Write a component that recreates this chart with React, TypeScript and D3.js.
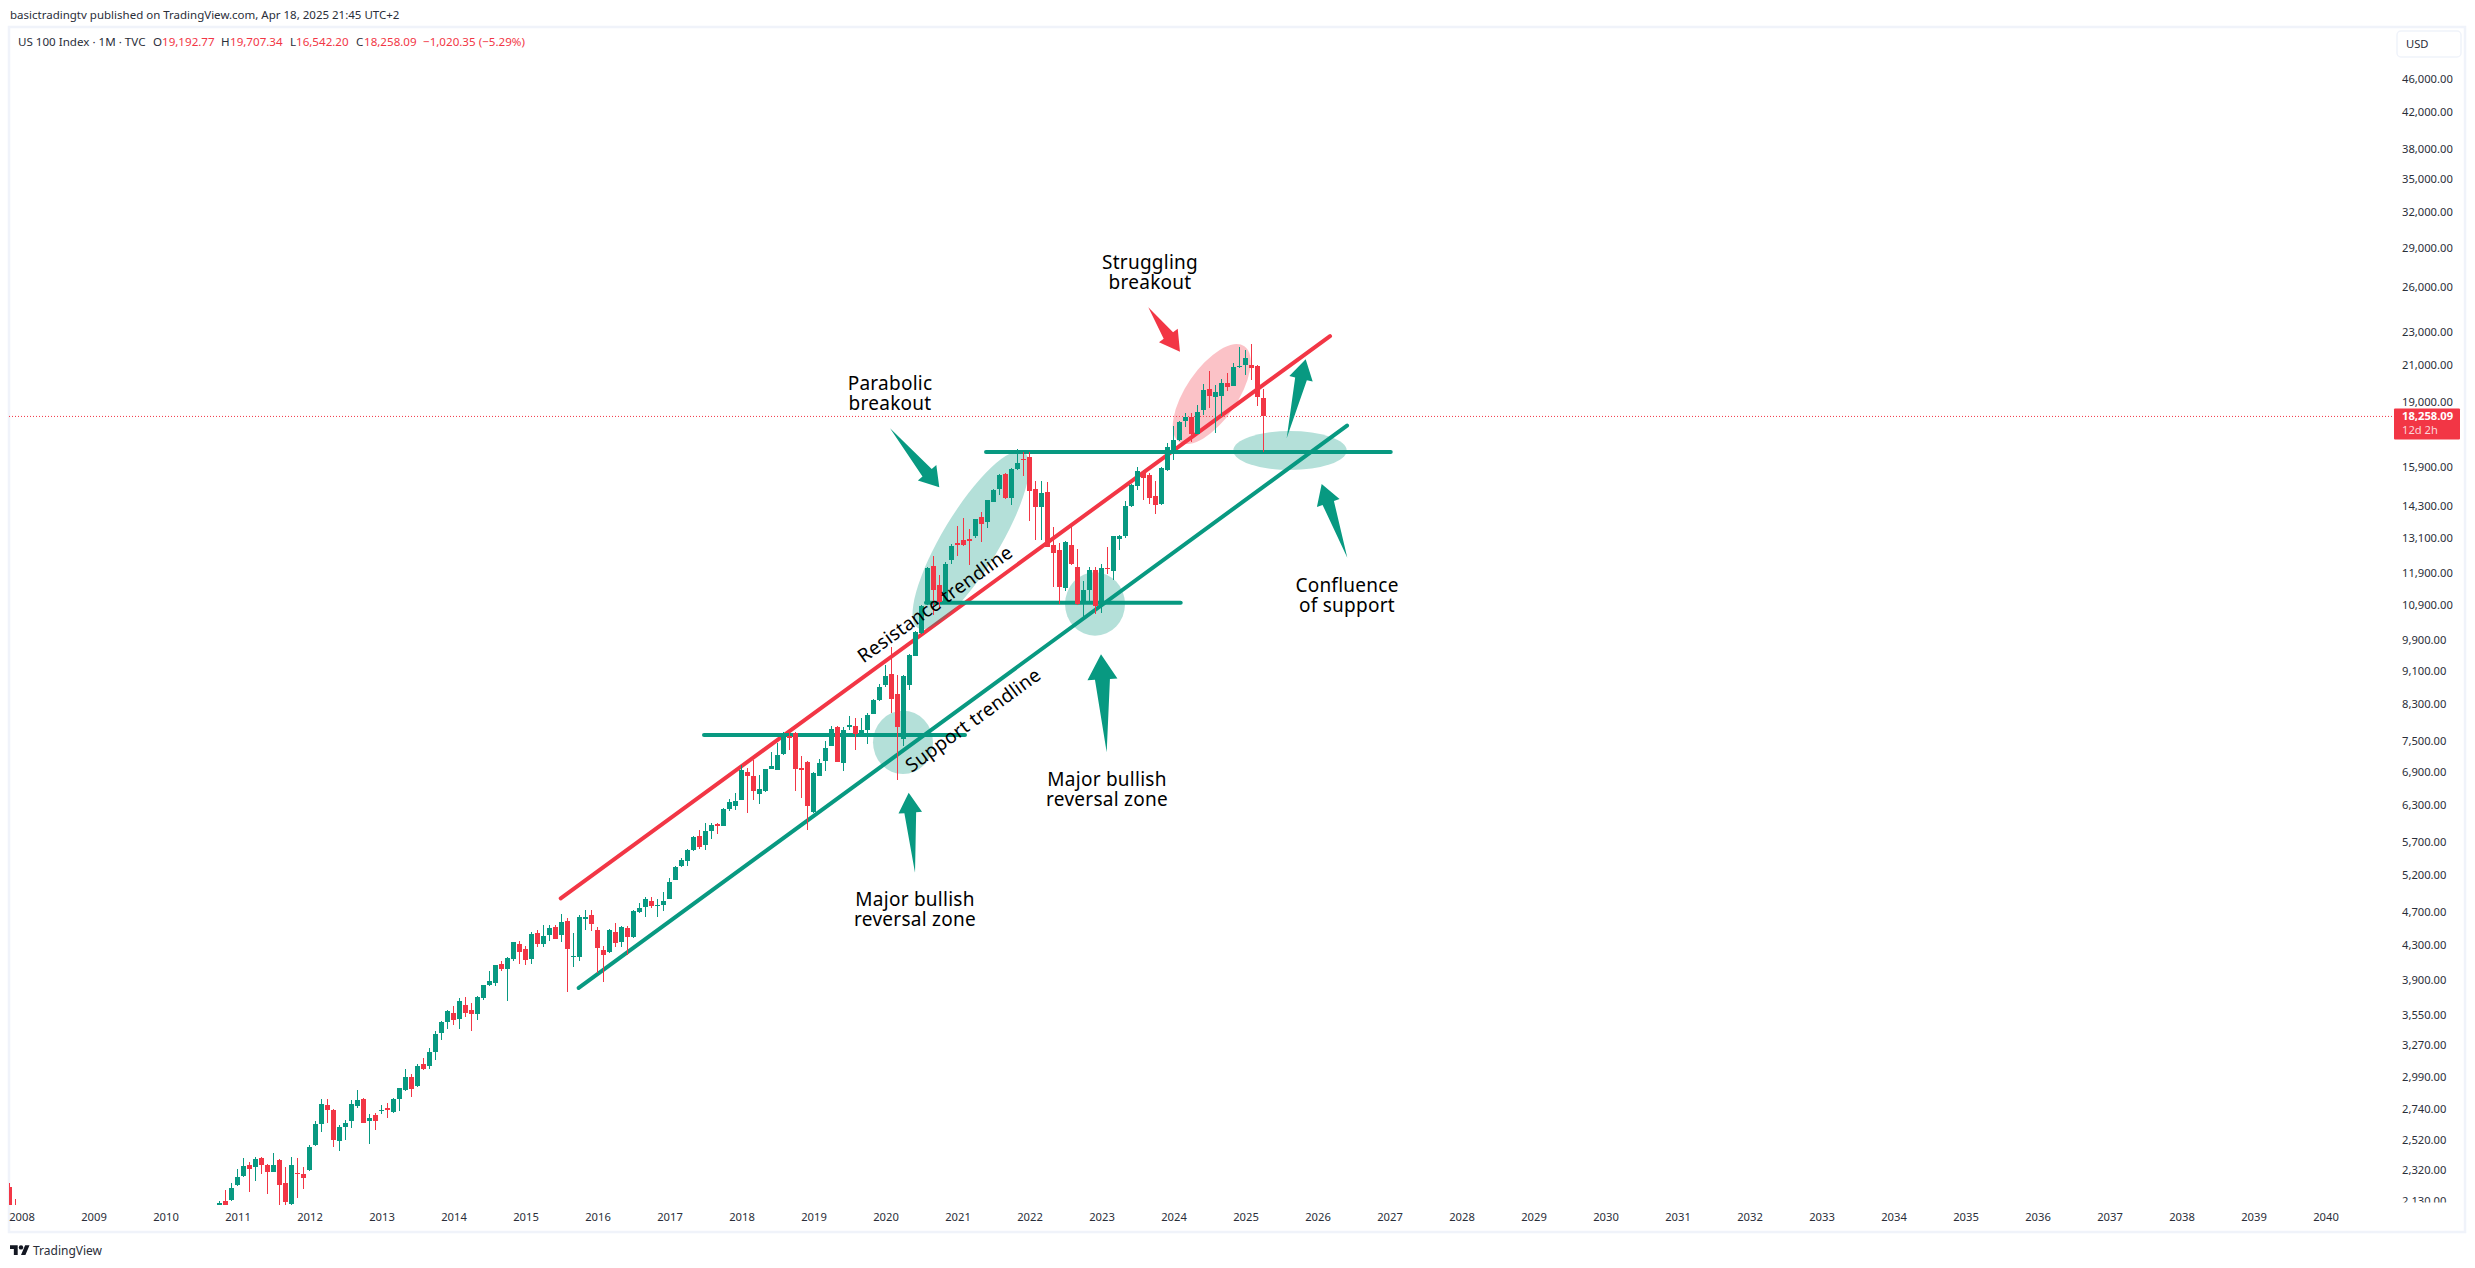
import { useEffect, useRef } from 'react';
import * as d3 from 'd3';

const WIDTH = 2475;
const HEIGHT = 1268;
const UP = '#089981';
const DOWN = '#f23645';
const TEXT = '#2a2e39';
const FRAME = '#f0f3fa';
const FONT = '"Noto Sans", sans-serif';
const NOTE_FONT = '"Noto Sans", sans-serif';

const priceTicks = [
  46000, 42000, 38000, 35000, 32000, 29000, 26000, 23000, 21000, 19000, 15900, 14300, 13100, 11900, 10900,
  9900, 9100, 8300, 7500, 6900, 6300, 5700, 5200, 4700, 4300, 3900, 3550, 3270, 2990, 2740, 2520, 2320, 2130,
];
const yearTicks = d3.range(2008, 2041);

// the two bars still visible at the left edge, Nov and Dec 2007
const earlyTimes = [2007 + 10 / 12, 2007 + 11 / 12];
const earlyOpens = [2214, 2091];
const earlyHighs = [2240, 2143];
const earlyLows = [2000, 2030];
const earlyCloses = [2091, 2085];

// monthly bars from Oct 2010 to Apr 2025, one row per year
const firstBar = 2010 + 9 / 12;
const opens = [
  2107, 2130, 2136,
  2225, 2280, 2348, 2335, 2398, 2352, 2306, 2384, 2237, 2112, 2300, 2295,
  2318, 2482, 2630, 2767, 2735, 2507, 2605, 2650, 2763, 2820, 2650, 2695,
  2725, 2750, 2715, 2820, 2890, 2990, 2918, 3100, 3082, 3203, 3377, 3477,
  3565, 3502, 3639, 3597, 3556, 3711, 3845, 3868, 4077, 4020, 4132, 4305,
  4248, 4132, 4437, 4305, 4412, 4510, 4412, 4582, 4165, 4160, 4625, 4660,
  4474, 4235, 4212, 4450, 4330, 4500, 4385, 4700, 4760, 4838, 4785, 4785,
  4875, 5130, 5330, 5410, 5570, 5785, 5645, 5860, 5985, 5950, 6235, 6280,
  6390, 6890, 6825, 6490, 6540, 6960, 6930, 7240, 7610, 7670, 6965, 7090,
  6175, 6825, 7115, 7405, 7810, 7075, 7800, 7830, 7610, 7745, 8080, 8390,
  8745, 9010, 8530, 7540, 8745, 9485, 10080, 10950, 12130, 11510, 10960, 12320,
  12900, 13014, 13040, 13150, 13870, 13680, 14440, 14950, 15600, 14590, 15800, 16270,
  16350, 14970, 14240, 14850, 12840, 12670, 11420, 12840, 12100, 10920, 11340, 11990,
  10870, 12060, 11960, 13050, 13160, 14290, 15090, 15650, 15550, 14680, 14360, 15770,
  16600, 17100, 18010, 18250, 17400, 18570, 19690, 19270, 19310, 20000, 19830, 20910,
  21000, 21000, 20950, 19192.77,
];
const highs = [
  2130, 2195, 2235,
  2324, 2393, 2367, 2405, 2405, 2358, 2428, 2391, 2335, 2400, 2395, 2340,
  2482, 2654, 2817, 2817, 2740, 2625, 2660, 2810, 2885, 2825, 2705, 2710,
  2772, 2785, 2825, 2905, 3058, 3015, 3100, 3147, 3238, 3393, 3487, 3590,
  3630, 3711, 3723, 3665, 3733, 3850, 4002, 4070, 4112, 4155, 4335, 4341,
  4285, 4450, 4474, 4539, 4530, 4539, 4672, 4622, 4437, 4665, 4722, 4722,
  4510, 4282, 4480, 4556, 4520, 4525, 4725, 4812, 4892, 4892, 4875, 4970,
  5155, 5330, 5445, 5590, 5785, 5883, 5995, 5995, 5995, 6245, 6405, 6505,
  7030, 6980, 7120, 6835, 6960, 7290, 7470, 7700, 7700, 7700, 7200, 7100,
  6895, 7140, 7500, 7830, 7815, 7790, 8040, 7995, 7995, 8100, 8420, 8770,
  9240, 9718, 9000, 8990, 9530, 10150, 10900, 12100, 12465, 11820, 12250, 12870,
  13530, 13820, 13420, 13790, 14060, 14540, 14960, 15580, 15650, 15850, 16700, 16580,
  16560, 15290, 15290, 15240, 13500, 12900, 12970, 13530, 12690, 11620, 12100, 12100,
  12200, 12780, 13170, 13200, 14500, 15180, 15900, 15760, 15620, 15320, 15900, 16960,
  17770, 18020, 18420, 18420, 18830, 19960, 20650, 19900, 20240, 20580, 21130, 22100,
  21900, 22240, 21000, 19707.34,
];
const lows = [
  2100, 2090, 2132,
  2222, 2274, 2183, 2250, 2292, 2171, 2306, 2107, 2107, 2100, 2146, 2200,
  2312, 2474, 2575, 2640, 2470, 2441, 2520, 2600, 2747, 2635, 2493, 2590,
  2700, 2675, 2708, 2728, 2875, 2830, 2908, 3050, 3060, 3134, 3310, 3410,
  3450, 3410, 3525, 3394, 3496, 3690, 3833, 3833, 3997, 3683, 4112, 4077,
  4065, 4077, 4268, 4268, 4341, 4360, 4329, 3775, 4040, 4112, 4474, 4460,
  3975, 3883, 4200, 4270, 4270, 4180, 4375, 4685, 4640, 4750, 4640, 4710,
  4870, 5125, 5310, 5330, 5560, 5590, 5570, 5745, 5825, 5945, 6190, 6215,
  6385, 6158, 6390, 6310, 6520, 6945, 6930, 7220, 7330, 6550, 6430, 5880,
  6170, 6825, 6910, 7405, 7080, 6910, 7745, 7320, 7590, 7450, 8080, 8370,
  8710, 8097, 6746, 7400, 8640, 9480, 10050, 10900, 10600, 10790, 10950, 12200,
  12470, 12800, 12140, 13100, 12950, 13440, 14440, 14730, 14550, 14340, 15770, 15490,
  13700, 13010, 13014, 12770, 11460, 10930, 11320, 12150, 10900, 10500, 10950, 10620,
  10650, 11870, 11660, 12680, 13100, 14240, 14910, 14520, 14380, 13960, 14340, 15740,
  16200, 17080, 17750, 17020, 17380, 18330, 18700, 17470, 18270, 19570, 19830, 20850,
  20450, 20150, 18780, 16542.2,
];
const closes = [
  2119, 2107, 2210,
  2274, 2342, 2322, 2392, 2352, 2306, 2352, 2225, 2124, 2348, 2295, 2270,
  2470, 2630, 2775, 2735, 2520, 2610, 2635, 2776, 2812, 2640, 2672, 2650,
  2733, 2733, 2820, 2900, 2990, 2895, 3082, 3055, 3203, 3365, 3477, 3583,
  3496, 3680, 3566, 3556, 3723, 3845, 3890, 4065, 4020, 4143, 4329, 4212,
  4120, 4425, 4305, 4400, 4497, 4360, 4570, 4248, 4172, 4640, 4632, 4545,
  4258, 4178, 4474, 4322, 4507, 4393, 4708, 4752, 4866, 4778, 4792, 4838,
  5100, 5310, 5420, 5570, 5765, 5610, 5860, 5960, 5955, 6235, 6350, 6370,
  6930, 6815, 6550, 6575, 6945, 7010, 7225, 7625, 7585, 6945, 6950, 6290,
  6880, 7060, 7370, 7760, 7095, 7745, 7840, 7660, 7745, 8050, 8390, 8700,
  8960, 8425, 7790, 8960, 9510, 10110, 10860, 12050, 11350, 10970, 12200, 12820,
  12870, 12850, 13010, 13770, 13600, 14520, 14920, 15550, 14590, 15800, 16085, 16250,
  14900, 14260, 14800, 12780, 12570, 11440, 12940, 12180, 10920, 11360, 11990, 10850,
  12050, 12020, 13160, 13170, 14290, 15120, 15730, 15430, 14620, 14330, 15840, 16780,
  17100, 18000, 18230, 17400, 18500, 19650, 19300, 19520, 20000, 19800, 20900, 20970,
  21420, 20820, 19278, 18258.09,
];
const lastPrice = 18258.09;

// trendlines, anchored in time and price like the drawing tools do
const trendLines = [
  { from: [2015.489, 4879], to: [2026.174, 22753], color: DOWN },
  { from: [2015.739, 3817], to: [2026.41, 17808], color: UP },
  { from: [2017.479, 7630], to: [2021.104, 7630], color: UP },
  { from: [2020.562, 10962], to: [2024.1, 10962], color: UP },
  { from: [2021.396, 16561], to: [2027.017, 16561], color: UP },
];
const zones = [
  { at: [2021.187, 13014], rx: 102.7, ry: 28.5, angle: -58.9, color: UP },
  { at: [2020.243, 7479], rx: 30, ry: 31.7, angle: 0, color: UP },
  { at: [2022.91, 10923], rx: 30, ry: 31.7, angle: 0, color: UP },
  { at: [2025.618, 16628], rx: 56.7, ry: 19.5, angle: 0, color: UP },
  { at: [2024.531, 19409], rx: 57.9, ry: 25.8, angle: -55.7, color: DOWN },
];
const arrows = [
  { tail: [2020.41, 5234], tip: [2020.322, 6515], head: 20, half: 11.8, color: UP },
  { tail: [2023.072, 7277], tip: [2022.993, 9517], head: 25, half: 15, color: UP },
  { tail: [2020.063, 17671], tip: [2020.747, 15036], head: 19, half: 12, color: UP },
  { tail: [2023.65, 24614], tip: [2024.09, 21794], head: 20, half: 11.5, color: DOWN },
  { tail: [2025.572, 17195], tip: [2025.836, 21347], head: 20, half: 12, color: UP },
  { tail: [2026.414, 12399], tip: [2026.058, 15172], head: 20, half: 12, color: UP },
];
const notes = [
  { lines: ['Struggling', 'breakout'], x: 1150, y: 262 },
  { lines: ['Parabolic', 'breakout'], x: 890, y: 383 },
  { lines: ['Major bullish', 'reversal zone'], x: 915, y: 899 },
  { lines: ['Major bullish', 'reversal zone'], x: 1107, y: 779 },
  { lines: ['Confluence', 'of support'], x: 1347, y: 585 },
];
const slantedNotes = [
  { text: 'Resistance trendline', x: 935, y: 604, angle: -35.7 },
  { text: 'Support trendline', x: 973, y: 720, angle: -36 },
];

const legend = [
  { text: 'US 100 Index · 1M · TVC', x: 18, color: TEXT },
  { text: 'O', x: 153, color: TEXT },
  { text: '19,192.77', x: 162, color: DOWN },
  { text: 'H', x: 221, color: TEXT },
  { text: '19,707.34', x: 230, color: DOWN },
  { text: 'L', x: 290, color: TEXT },
  { text: '16,542.20', x: 296, color: DOWN },
  { text: 'C', x: 356, color: TEXT },
  { text: '18,258.09', x: 364, color: DOWN },
  { text: '−1,020.35 (−5.29%)', x: 423, color: DOWN },
];

export default function App() {
  const svgRef = useRef<SVGSVGElement>(null);

  useEffect(() => {
    if (!svgRef.current) return;
    const svg = d3.select(svgRef.current);
    svg.selectAll('*').remove();

    const x = d3.scaleLinear().domain([2009, 2040]).range([93.5, 2325.5]);
    const y = d3.scaleLog().domain([46000, 2130]).range([79, 1201]);
    const point = (p: number[]) => [x(p[0]), y(p[1])];

    const defs = svg.append('defs');
    defs.append('clipPath').attr('id', 'plot')
      .append('rect').attr('x', 9).attr('y', 27).attr('width', 2385).attr('height', 1178);
    defs.append('clipPath').attr('id', 'scale')
      .append('rect').attr('x', 2394).attr('y', 27).attr('width', 70).attr('height', 1175.5);
    defs.append('clipPath').attr('id', 'times')
      .append('rect').attr('x', 9).attr('y', 1205).attr('width', 2385).attr('height', 26);

    // frame
    svg.append('rect')
      .attr('x', 9).attr('y', 27).attr('width', 2456).attr('height', 1205)
      .attr('fill', 'white').attr('stroke', FRAME).attr('stroke-width', 2.5);

    // header
    svg.append('text')
      .attr('x', 10).attr('y', 19)
      .attr('font-family', FONT).attr('font-size', 11.5).attr('fill', TEXT)
      .text('basictradingtv published on TradingView.com, Apr 18, 2025 21:45 UTC+2');
    svg.append('g').selectAll('text').data(legend).enter().append('text')
      .attr('x', d => d.x).attr('y', 46)
      .attr('font-family', FONT).attr('font-size', 11.6).attr('fill', d => d.color)
      .text(d => d.text);

    const plot = svg.append('g').attr('clip-path', 'url(#plot)');

    // last price line
    plot.append('line')
      .attr('x1', 9).attr('x2', 2394).attr('y1', y(lastPrice)).attr('y2', y(lastPrice))
      .attr('stroke', DOWN).attr('stroke-width', 1).attr('stroke-dasharray', '1 2');

    // trendlines go under the zones, the zones dull them a little
    plot.append('g').selectAll('line').data(trendLines).enter().append('line')
      .attr('x1', d => point(d.from)[0]).attr('y1', d => point(d.from)[1])
      .attr('x2', d => point(d.to)[0]).attr('y2', d => point(d.to)[1])
      .attr('stroke', d => d.color).attr('stroke-width', 4).attr('stroke-linecap', 'round');

    plot.append('g').selectAll('ellipse').data(zones).enter().append('ellipse')
      .attr('rx', d => d.rx).attr('ry', d => d.ry)
      .attr('transform', d => `translate(${point(d.at)}) rotate(${d.angle})`)
      .attr('fill', d => d.color).attr('opacity', 0.3);

    // candles
    const bars = [
      ...earlyOpens.map((o, i) => ({ t: earlyTimes[i], o, h: earlyHighs[i], l: earlyLows[i], c: earlyCloses[i] })),
      ...opens.map((o, i) => ({ t: firstBar + i / 12, o, h: highs[i], l: lows[i], c: closes[i] })),
    ];
    const candles = plot.append('g').attr('shape-rendering', 'crispEdges');
    candles.selectAll('.wick').data(bars).enter().append('rect')
      .attr('class', 'wick')
      .attr('x', d => Math.round(x(d.t) - 0.5)).attr('width', 1)
      .attr('y', d => y(d.h)).attr('height', d => y(d.l) - y(d.h))
      .attr('fill', d => (d.c >= d.o ? UP : DOWN));
    candles.selectAll('.body').data(bars).enter().append('rect')
      .attr('class', 'body')
      .attr('x', d => Math.round(x(d.t) - 0.5) - 2).attr('width', 5)
      .attr('y', d => y(Math.max(d.o, d.c)))
      .attr('height', d => Math.max(1.5, Math.abs(y(d.o) - y(d.c))))
      .attr('fill', d => (d.c >= d.o ? UP : DOWN));

    // arrows
    const arrowPath = (d: (typeof arrows)[number]) => {
      const [x0, y0] = point(d.tail);
      const [x1, y1] = point(d.tip);
      const len = Math.hypot(x1 - x0, y1 - y0);
      const ux = (x1 - x0) / len;
      const uy = (y1 - y0) / len;
      const bx = x1 - ux * d.head;
      const by = y1 - uy * d.head;
      const side = (k: number) => [bx - uy * k, by + ux * k];
      return d3.line()([
        [x0, y0], side(d.half / 2), side(d.half), [x1, y1], side(-d.half), side(-d.half / 2),
      ] as [number, number][]) + 'Z';
    };
    svg.append('g').selectAll('path').data(arrows).enter().append('path')
      .attr('d', arrowPath).attr('fill', d => d.color);

    // notes
    const noteGroup = svg.append('g')
      .attr('font-family', NOTE_FONT).attr('font-size', 19).attr('letter-spacing', 0.25)
      .attr('fill', '#000').attr('text-anchor', 'middle');
    notes.forEach(n => {
      n.lines.forEach((line, i) => {
        noteGroup.append('text').attr('x', n.x).attr('y', n.y + i * 20).attr('dy', '0.35em').text(line);
      });
    });
    noteGroup.selectAll('.slanted').data(slantedNotes).enter().append('text')
      .attr('class', 'slanted')
      .attr('transform', d => `translate(${d.x},${d.y}) rotate(${d.angle})`)
      .attr('dy', '0.35em')
      .text(d => d.text);

    // price scale, the lowest label is cut off by the time scale
    const priceAxis = svg.append('g')
      .attr('clip-path', 'url(#scale)')
      .append('g')
      .attr('transform', 'translate(2402,0)')
      .call(d3.axisRight(y).tickValues(priceTicks).tickSize(0).tickPadding(0).tickFormat(d3.format(',.2f') as any));
    priceAxis.select('.domain').remove();
    priceAxis.selectAll('text')
      .attr('font-family', FONT).attr('font-size', 11.2).attr('fill', TEXT);

    // time scale
    const timeAxis = svg.append('g')
      .attr('clip-path', 'url(#times)')
      .append('g')
      .attr('transform', 'translate(0,1213)')
      .call(d3.axisBottom(x).tickValues(yearTicks).tickSize(0).tickPadding(0).tickFormat(d3.format('d') as any));
    timeAxis.select('.domain').remove();
    timeAxis.selectAll('text')
      .attr('font-family', FONT).attr('font-size', 11.2).attr('fill', TEXT);

    // currency box and last price label
    svg.append('rect')
      .attr('x', 2397).attr('y', 31).attr('width', 64).attr('height', 26).attr('rx', 4)
      .attr('fill', 'white').attr('stroke', FRAME).attr('stroke-width', 1.5);
    svg.append('text')
      .attr('x', 2406).attr('y', 48)
      .attr('font-family', FONT).attr('font-size', 11.2).attr('fill', TEXT)
      .text('USD');
    svg.append('rect')
      .attr('x', 2394).attr('y', y(lastPrice) - 8).attr('width', 66).attr('height', 31).attr('rx', 1)
      .attr('fill', DOWN);
    svg.append('text')
      .attr('x', 2402).attr('y', y(lastPrice) + 4)
      .attr('font-family', FONT).attr('font-size', 11.2).attr('font-weight', 700).attr('fill', 'white')
      .text('18,258.09');
    svg.append('text')
      .attr('x', 2402).attr('y', y(lastPrice) + 18)
      .attr('font-family', FONT).attr('font-size', 11.2).attr('fill', '#fbd5d9')
      .text('12d 2h');

    // footer logo
    const logo = svg.append('g').attr('transform', 'translate(10,1243) scale(0.55)').attr('fill', '#131722');
    logo.append('path').attr('d', 'M14 22H7V11H0V4h14v18zM28 22h-8l7.5-18h8L28 22z');
    logo.append('circle').attr('cx', 20).attr('cy', 8).attr('r', 4);
    svg.append('text')
      .attr('x', 33).attr('y', 1255)
      .attr('font-family', FONT).attr('font-size', 12).attr('fill', TEXT)
      .text('TradingView');
  }, []);

  return (
    <svg
      ref={svgRef}
      width={WIDTH}
      height={HEIGHT}
      style={{ position: 'absolute', left: 0, top: 0, background: 'white' }}
    />
  );
}
